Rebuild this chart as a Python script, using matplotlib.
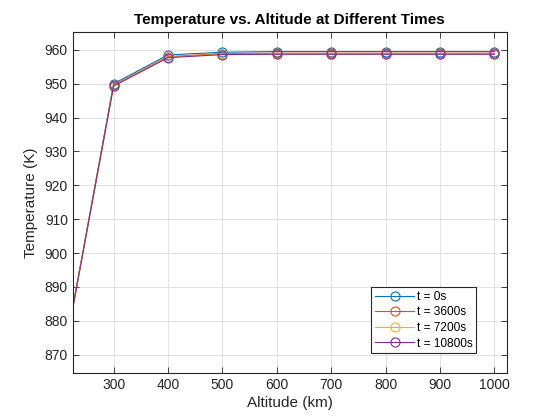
import matplotlib
matplotlib.use("Agg")
import matplotlib.pyplot as plt

plt.rcParams['font.family'] = ['Liberation Sans', 'DejaVu Sans']

altitude = [200, 300, 400, 500, 600, 700, 800, 900, 1000]
temp_t0 = [862.0, 950.0, 958.5, 959.3, 959.5, 959.5, 959.5, 959.5, 959.5]
temp_t3600 = [862.0, 949.6, 958.0, 958.9, 959.0, 959.0, 959.0, 959.0, 959.0]
temp_t7200 = [862.0, 949.4, 957.8, 958.7, 958.8, 958.8, 958.8, 958.8, 958.8]
temp_t10800 = [862.0, 949.3, 957.7, 958.6, 958.7, 958.7, 958.7, 958.7, 958.7]
labels = ['t = 0s', 't = 3600s', 't = 7200s', 't = 10800s']
colors = ['#0072BD', '#D95319', '#EDB120', '#7E2F8E']
series = [temp_t0, temp_t3600, temp_t7200, temp_t10800]

fig = plt.figure(figsize=(5.6, 4.2), dpi=100)
ax = fig.add_axes([0.130, 0.112, 0.775, 0.812])

for ys, c, lab in zip(series, colors, labels):
    ax.plot(altitude, ys, color=c, linewidth=0.8, marker='o', markersize=6.5,
            markerfacecolor='none', markeredgecolor=c, markeredgewidth=0.8, label=lab)

ax.set_xlim(225, 1023)
ax.set_ylim(864.6, 965.3)
ax.set_xticks(range(300, 1001, 100))
ax.set_yticks(range(870, 961, 10))
ax.grid(True, color='#dcdcdc', linewidth=0.6)
ax.set_axisbelow(True)
ax.tick_params(direction='in', top=True, right=True, length=4, width=0.6,
               labelsize=10, colors='#262626', labelcolor='#262626')
for s in ax.spines.values():
    s.set_linewidth(0.8)
    s.set_color('#262626')

ax.set_xlabel('Altitude (km)', fontsize=11, color='#262626', labelpad=3)
ax.set_ylabel('Temperature (K)', fontsize=11, color='#262626', labelpad=5)
ax.set_title('Temperature vs. Altitude at Different Times', fontsize=11,
             fontweight='bold', color='black', pad=6)

leg = ax.legend(loc='lower right', bbox_to_anchor=(0.929, 0.058), fontsize=8.6,
                frameon=True, fancybox=False, edgecolor='#262626', framealpha=1,
                handlelength=3.3, borderpad=0.3, labelspacing=0.3, handletextpad=0.2,
                borderaxespad=0.0)
leg.get_frame().set_linewidth(0.8)

fig.savefig('out.png', dpi=100)
